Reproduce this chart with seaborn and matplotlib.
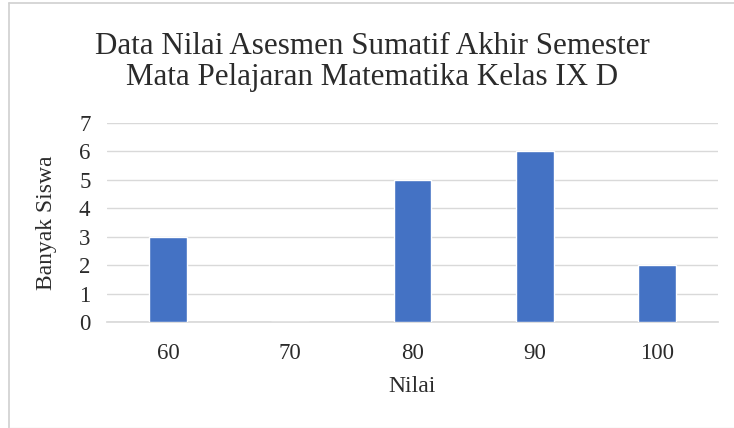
import matplotlib
matplotlib.use("Agg")
import matplotlib.pyplot as plt
import seaborn as sns
import pandas as pd
from matplotlib.lines import Line2D

categories = ["60", "70", "80", "90", "100"]
values = [3, 0, 5, 6, 2]
yticks = [0, 1, 2, 3, 4, 5, 6, 7]
title_lines = ["Data Nilai Asesmen Sumatif Akhir Semester",
               "Mata Pelajaran Matematika Kelas IX D"]

sns.set_theme(style="white")
plt.rcParams['font.family'] = ['Liberation Serif', 'DejaVu Serif']

df = pd.DataFrame({"Nilai": categories, "Banyak Siswa": values})
txt = "#2b2b2b"

fig = plt.figure(figsize=(7.34, 4.28), dpi=100)
ax = fig.add_axes([0.146, 0.2477, 0.832, 0.465])
sns.barplot(data=df, x="Nilai", y="Banyak Siswa", order=categories,
            color="#4472C4", saturation=1, width=0.31, ax=ax, zorder=3)
ax.set_xlim(-0.5, 4.5)
ax.set_ylim(0, 7)
ax.set_yticks(yticks)
ax.grid(axis="y", color="#D9D9D9", linewidth=1.0, zorder=0)
ax.set_axisbelow(True)
for s in ["top", "right", "left"]:
    ax.spines[s].set_visible(False)
ax.spines["bottom"].set_color("#D9D9D9")
ax.tick_params(axis="both", length=0, labelsize=16.5, labelcolor=txt)
ax.tick_params(axis="x", pad=15)
ax.tick_params(axis="y", pad=12)
ax.set_xlabel("Nilai", fontsize=17, color=txt, labelpad=9)
ax.set_ylabel("Banyak Siswa", fontsize=17, color=txt, labelpad=16)

fig.text(0.507, 1 - 46 / 428, title_lines[0], ha="center", va="center",
         fontsize=22.3, color=txt)
fig.text(0.507, 1 - 78 / 428, title_lines[1], ha="center", va="center",
         fontsize=22.3, color=txt)

bc = "#D0D0D0"
x0, y0, y1 = 8.5 / 734, 0.5 / 428, 1 - 2.5 / 428
fig.lines.append(Line2D([x0, 1.0], [y1, y1], transform=fig.transFigure, color=bc, lw=1.2))
fig.lines.append(Line2D([x0, x0], [y0, y1], transform=fig.transFigure, color=bc, lw=1.2))
fig.lines.append(Line2D([x0, 1.0], [y0, y0], transform=fig.transFigure, color="#EAEAEA", lw=1.0))

fig.savefig("out.png", dpi=100)
